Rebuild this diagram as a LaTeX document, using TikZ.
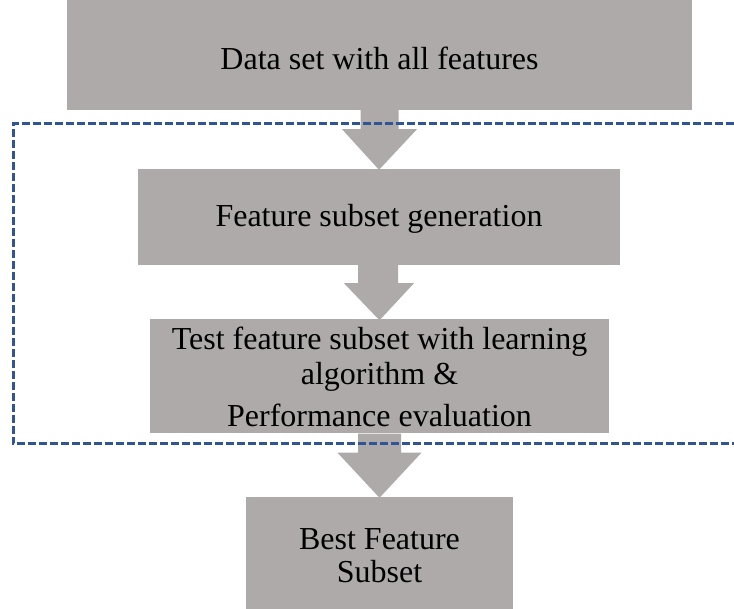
\documentclass[tikz,border=0pt]{standalone}
\usepackage{fontspec}
\setmainfont{Liberation Serif}
\usetikzlibrary{calc}

\definecolor{boxgray}{HTML}{AEAAAA}
\definecolor{loopblue}{HTML}{2F5597}

\tikzset{
  stagebox/.style={fill=boxgray, draw=none, inner sep=0pt, align=center,
    font=\fontsize{32}{35}\selectfont},
  blockarrow/.style={fill=boxgray, draw=none},
  loopline/.style={draw=loopblue, line width=3pt, dash pattern=on 8pt off 3pt}
}

\begin{document}
\begin{tikzpicture}[x=1pt, y=-1pt]
  \useasboundingbox (0,0) rectangle (734,609);

  % process stages
  \node[stagebox, minimum width=625pt, minimum height=110pt, text height=29pt] (b1)
    at (379.5,55) {Data set with all features};
  \node[stagebox, minimum width=482pt, minimum height=96pt, text height=26pt] (b2)
    at (379,217) {Feature subset generation};
  \node[stagebox, minimum width=459pt, minimum height=114pt] (b3) at (379.5,376.5)
    {Test feature subset with learning\\algorithm \&\\[7pt]Performance evaluation};
  \node[stagebox, minimum width=267pt, minimum height=112pt,
    font=\fontsize{32}{33}\selectfont] (b4) at (379.5,553)
    {\rule{0pt}{26pt}Best Feature\\Subset};

  % block arrows between stages
  \fill[blockarrow] ($(b1.south)+(-19,0)$) -- ($(b1.south)+(-19,19)$)
    -- ($(b1.south)+(-37.5,19)$) -- ($(b2.north)+(0,1)$)
    -- ($(b1.south)+(37.5,19)$) -- ($(b1.south)+(19,19)$)
    -- ($(b1.south)+(19,0)$) -- cycle;
  \fill[blockarrow] ($(b2.south)+(-21,0)$) -- ($(b2.south)+(-21,18)$)
    -- ($(b2.south)+(-35,18)$) -- ($(b3.north)+(0,1)$)
    -- ($(b2.south)+(35,18)$) -- ($(b2.south)+(19,18)$)
    -- ($(b2.south)+(19,0)$) -- cycle;
  \fill[blockarrow] ($(b3.south)+(-21.5,0)$) -- ($(b3.south)+(-21.5,19)$)
    -- ($(b3.south)+(-42,19)$) -- ($(b4.north)+(0,1)$)
    -- ($(b3.south)+(42,19)$) -- ($(b3.south)+(21.5,19)$)
    -- ($(b3.south)+(21.5,0)$) -- cycle;

  % dashed loop around generation and evaluation
  \coordinate (lt) at (734,124);
  \coordinate (lb) at (734,444);
  \draw[loopline] (lt) -- (13,124) -- (13,444) -- (lb);
\end{tikzpicture}
\end{document}
